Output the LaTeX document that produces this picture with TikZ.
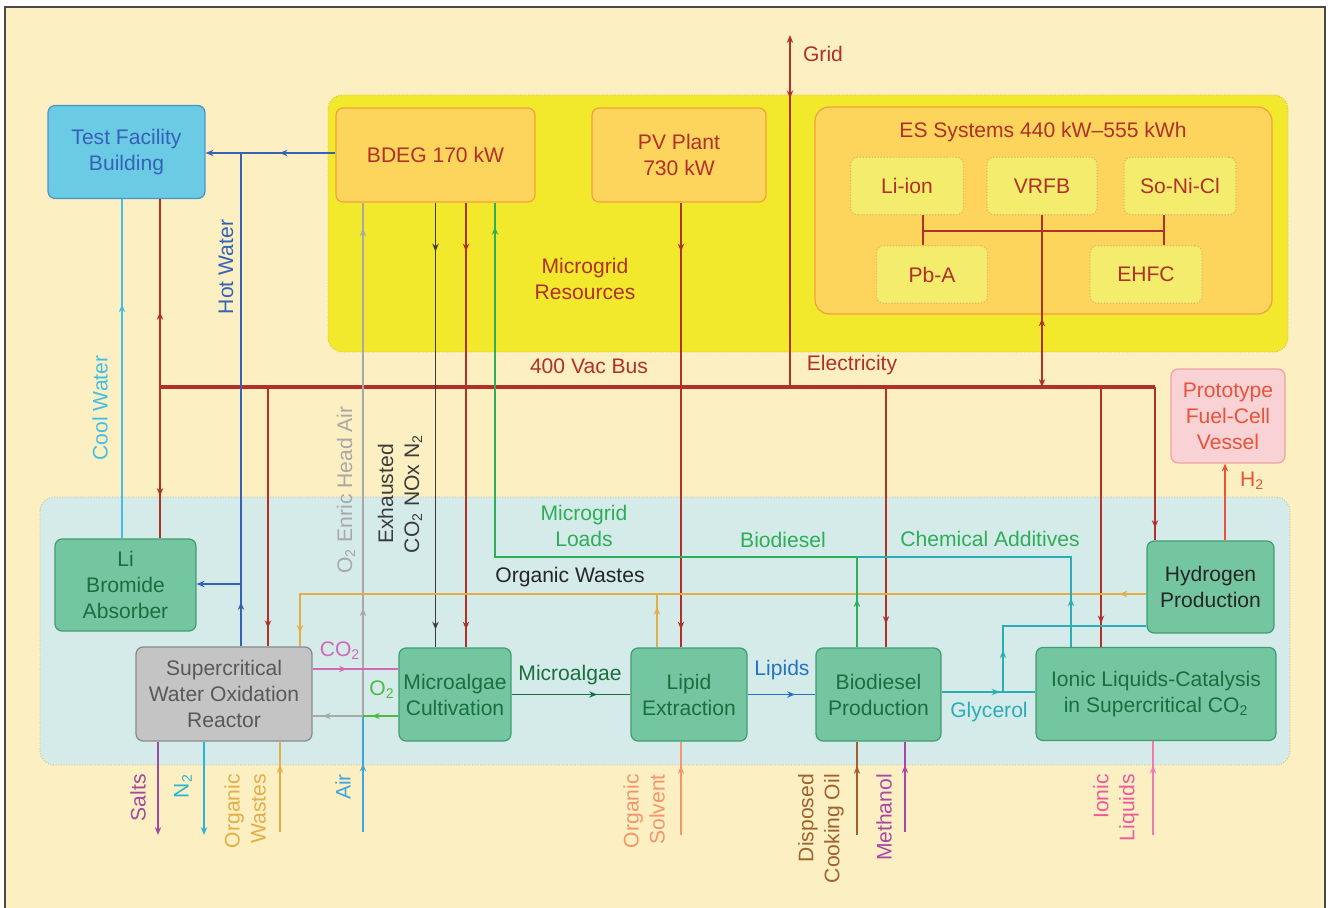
\documentclass[tikz,border=0pt]{standalone}
\usepackage{fontspec}
\setmainfont{Liberation Sans}
\usepackage{tikz}
\usetikzlibrary{arrows.meta}
\usetikzlibrary{decorations.markings}
\definecolor{Crema}{HTML}{FCEFC2}
\definecolor{Marco}{HTML}{4A4A4A}
\definecolor{Amarillo}{HTML}{F2E82C}
\definecolor{BordeZona}{HTML}{E2B868}
\definecolor{Naranja}{HTML}{FDD55C}
\definecolor{NaranjaBorde}{HTML}{F2A23A}
\definecolor{Limon}{HTML}{F4EC6C}
\definecolor{Agua}{HTML}{D4EBE9}
\definecolor{Cielo}{HTML}{6CCBE4}
\definecolor{CieloBorde}{HTML}{4C94CC}
\definecolor{Verde}{HTML}{74C6A0}
\definecolor{VerdeBorde}{HTML}{3F9E70}
\definecolor{VerdeTexto}{HTML}{18703F}
\definecolor{Gris}{HTML}{C4C4C4}
\definecolor{GrisBorde}{HTML}{8A8A8A}
\definecolor{Rosa}{HTML}{F8D2D4}
\definecolor{RosaBorde}{HTML}{F1A2A6}
\definecolor{Rojo}{HTML}{B0302A}
\definecolor{RojoClaro}{HTML}{E9533A}
\definecolor{Azul}{HTML}{3462B8}
\definecolor{AzulL}{HTML}{2472C0}
\definecolor{Cian}{HTML}{42BFE8}
\definecolor{CianN}{HTML}{2BB5D5}
\definecolor{Celeste}{HTML}{3EA5E0}
\definecolor{GrisOscuro}{HTML}{3C3C3C}
\definecolor{GrisClaro}{HTML}{A8A8A8}
\definecolor{Oro}{HTML}{E3AE45}
\definecolor{VerdeL}{HTML}{2DAE58}
\definecolor{VerdeO}{HTML}{52B844}
\definecolor{Teal}{HTML}{2AAEB4}
\definecolor{RosaCO}{HTML}{D468B8}
\definecolor{Purpura}{HTML}{A04AA0}
\definecolor{Salmon}{HTML}{F4956A}
\definecolor{Cafe}{HTML}{A0622D}
\definecolor{Morado}{HTML}{A947A8}
\definecolor{RosaL}{HTML}{EC5AA0}

\tikzset{
  zona/.style={draw=BordeZona, densely dotted, line width=.5pt, rounded corners=8pt},
  caja/.style={draw, rounded corners=4pt, align=center, line width=.7pt, inner sep=1pt},
  cajanar/.style={caja, fill=Naranja, draw=NaranjaBorde, text=Rojo},
  cajalim/.style={caja, fill=Limon, draw=BordeZona, densely dotted, text=Rojo,
    minimum height=1.15cm},
  cajaver/.style={caja, fill=Verde, draw=VerdeBorde, text=VerdeTexto, minimum height=1.86cm},
  linea/.style={line width=.8pt},
  feeder/.style={line width=1.1pt, draw=Rojo},
  bus/.style={line width=1.8pt, draw=Rojo},
  tip/.style={postaction={decorate, decoration={markings,
    mark=at position #1 with {\arrow{Stealth[length=4.5pt,width=3.6pt]}}}}},
  tipr/.style={postaction={decorate, decoration={markings,
    mark=at position #1 with {\arrowreversed{Stealth[length=4.5pt,width=3.6pt]}}}}},
  punta/.style={-{Stealth[length=4.5pt,width=3.6pt]}},
  vert/.style={rotate=90, align=right, anchor=east},
}

\begin{document}
\begin{tikzpicture}[x=.02cm, y=-.02cm, font=\fontsize{12}{14.8}\selectfont]
  \useasboundingbox (0,0) rectangle (1330,908);
  \fill[white] (0,0) rectangle (1330,908);
  \fill[Crema] (5,7) rectangle (1325,908);
  \draw[line width=1pt, Marco] (5,908) -- (5,7) -- (1325,7) -- (1325,908);

  % zonas
  \draw[zona, fill=Amarillo] (328,95) rectangle (1288,352);
  \draw[zona, fill=Agua] (40,497) rectangle (1290,765);

  % recursos
  \node[caja, fill=Cielo, draw=CieloBorde, text=Azul, minimum width=3.14cm, minimum height=1.86cm]
    (tfb) at (126.5,152) {Test Facility\\Building};
  \node[cajanar, minimum width=3.98cm, minimum height=1.88cm] (bdeg) at (435.5,155) {BDEG 170 kW};
  \node[cajanar, minimum width=3.48cm, minimum height=1.88cm] (pv) at (679,155) {PV Plant\\730 kW};
  \node[cajanar, minimum width=9.14cm, minimum height=4.14cm, rounded corners=8pt] (es) at (1043.5,210.5) {};
  \node[text=Rojo] (estitle) at (1043,132) {ES Systems 440 kW--555 kWh};
  \node[cajalim, minimum width=2.26cm] (liion) at (907,186) {Li-ion};
  \node[cajalim, minimum width=2.2cm] (vrfb) at (1042,186) {VRFB};
  \node[cajalim, minimum width=2.24cm] (sonicl) at (1180,186) {So-Ni-Cl};
  \node[cajalim, minimum width=2.22cm] (pba) at (932,274.5) {Pb-A};
  \node[cajalim, minimum width=2.24cm] (ehfc) at (1146,274.5) {EHFC};
  \node[caja, fill=Rosa, draw=RosaBorde, text=RojoClaro, minimum width=2.28cm, minimum height=1.88cm]
    (proto) at (1228,416) {Prototype\\Fuel-Cell\\Vessel};

  % procesos
  \node[cajaver, minimum width=2.82cm, minimum height=1.84cm] (libr) at (125.5,585) {Li\\Bromide\\Absorber};
  \node[caja, fill=Gris, draw=GrisBorde, text=black!65, minimum width=3.52cm, minimum height=1.88cm]
    (scwo) at (224,694) {Supercritical\\Water Oxidation\\Reactor};
  \node[cajaver, minimum width=2.24cm] (mc) at (455,694.5) {Microalgae\\Cultivation};
  \node[cajaver, minimum width=2.32cm] (le) at (689,694.5) {Lipid\\Extraction};
  \node[cajaver, minimum width=2.5cm] (bp) at (878.5,694.5) {Biodiesel\\Production};
  \node[cajaver, minimum width=4.8cm] (il) at (1156,694) {Ionic Liquids-Catalysis\\in Supercritical CO\textsubscript{2}};
  \node[cajaver, text=black!85, minimum width=2.54cm, minimum height=1.84cm] (hp) at (1210.5,587) {Hydrogen\\Production};

  % puntos de union
  \coordinate (bw) at (160,387);
  \coordinate (be) at (1155,387);
  \coordinate (gtop) at (790,35);
  \coordinate (jhw) at (241,153);
  \coordinate (jlb) at (241,584);
  \coordinate (jair) at (363,716);
  \coordinate (jco) at (330,669);
  \coordinate (jow) at (300,594);
  \coordinate (jbd) at (857,557);
  \coordinate (jld) at (495,557);
  \coordinate (jca) at (1071,557);
  \coordinate (jgl) at (1003,692);
  \coordinate (jgh) at (1003,626);
  \coordinate (esbus) at (923,231);
  \coordinate (airin) at (363,832);
  \coordinate (salts) at (158,835);
  \coordinate (ntwo) at (204,835);
  \coordinate (owin) at (280,832);
  \coordinate (solv) at (681,835);
  \coordinate (oil) at (857,835);
  \coordinate (meth) at (905,832);
  \coordinate (ionin) at (1153,835);

  % 400 Vac bus
  \draw[bus] (bw) -- (be);
  \draw[feeder, tip=.4] (bw) -- (bw |- tfb.south);
  \draw[feeder, tip=.72] (bw) -- (bw |- libr.north);
  \draw[feeder, tip=.93] (268,0 |- bw) -- (268,0 |- scwo.north);
  \draw[feeder, tip=.11, tip=.96] (466,0 |- bdeg.south) -- (466,0 |- mc.north);
  \draw[feeder, tip=.11, tip=.96] (681,0 |- pv.south) -- (681,0 |- le.north);
  \draw[feeder, tip=.91] (886,0 |- bw) -- (886,0 |- bp.north);
  \draw[feeder, tip=.91] (1101,0 |- bw) -- (1101,0 |- il.north);
  \draw[feeder, tip=.92] (be) -- (be |- hp.north);
  \draw[feeder, punta, tipr=.82] (gtop |- bw) -- (gtop);
  \draw[feeder, line width=1pt, punta, tipr=.6] (vrfb.south) -- (vrfb.south |- bw);
  \draw[feeder, line width=1pt] (esbus |- liion.south) -- (esbus |- pba.north);
  \draw[feeder, line width=1pt] (esbus) -- (1164,0 |- esbus);
  \draw[feeder, line width=1pt] (1164,0 |- sonicl.south) -- (1164,0 |- ehfc.north);

  % agua
  \draw[linea, Azul, tip=.43, punta] (bdeg.west |- jhw) -- (tfb.east |- jhw);
  \draw[linea, Azul, tip=.09] (jhw |- scwo.north) -- (jhw);
  \draw[linea, Azul, punta] (jlb) -- (libr.east |- jlb);
  \draw[linea, Cian, tip=.69] (122,0 |- libr.north) -- (122,0 |- tfb.south);

  % gases
  \draw[linea, GrisOscuro, tip=.11, tip=.96] (bdeg.south) -- (bdeg.south |- mc.north);
  \draw[linea, GrisClaro, tip=.21, tip=.95] (jair) -- (jair |- bdeg.south);
  \draw[linea, Celeste, tip=.59] (airin) -- (jair);
  \draw[linea, GrisClaro, tip=.8] (jair) -- (jair -| scwo.east);
  \draw[linea, VerdeO, tip=.75] (jair -| mc.west) -- (jair);
  \draw[linea, RosaCO, tip=.4] (jco -| scwo.east) -- (jco -| mc.west);

  % residuos organicos
  \draw[linea, Oro, tip=.03, tip=.985] (hp.west |- jow) -- (jow) -- (jow |- scwo.north);
  \draw[linea, Oro, tip=.76] (657,0 |- le.north) -- (657,0 |- jow);

  % productos
  \draw[linea, VerdeL, tip=.06, tip=.97] (jbd |- bp.north) -- (jbd) -- (jld) -- (jld |- bdeg.south);
  \draw[linea, Teal, tip=.16] (jca |- il.north) -- (jca) -- (jbd);
  \draw[linea, Teal, tip=.62] (bp.east |- jgl) -- (il.west |- jgl);
  \draw[linea, Teal, tip=.2] (jgl) -- (jgh) -- (hp.west |- jgh);
  \draw[linea, VerdeTexto, tip=.72] (mc.east) -- (le.west);
  \draw[linea, AzulL, tip=.7] (le.east) -- (bp.west);
  \draw[linea, RojoClaro, punta] (1225,0 |- hp.north) -- (1225,0 |- proto.south);

  % entradas y salidas
  \draw[linea, Purpura, punta] (salts |- scwo.south) -- (salts);
  \draw[linea, CianN, punta] (ntwo |- scwo.south) -- (ntwo);
  \draw[linea, Oro, tip=.74] (owin) -- (owin |- scwo.south);
  \draw[linea, Salmon, tip=.74] (solv) -- (solv |- le.south);
  \draw[linea, Cafe, tip=.74] (oil) -- (oil |- bp.south);
  \draw[linea, Morado, tip=.74] (meth) -- (meth |- bp.south);
  \draw[linea, RosaL!80, tip=.74] (ionin) -- (ionin |- il.south);

  % etiquetas
  \node[text=Rojo] (lgrid) at (823,54) {Grid};
  \node[text=Rojo, align=center] (lres) at (585,279) {Microgrid\\Resources};
  \node[text=Rojo] (lbus) at (589,366) {400 Vac Bus};
  \node[text=Rojo] (lelec) at (852,365) {Electricity};
  \node[text=VerdeL, align=center] (lloads) at (584,526) {Microgrid\\Loads};
  \node[text=VerdeL] (lbiod) at (783,540) {Biodiesel};
  \node[text=VerdeL] (lchem) at (990,539) {Chemical Additives};
  \node[text=black!85] (lwaste) at (570,577) {Organic Wastes};
  \node[text=VerdeTexto] (lalgae) at (570,675) {Microalgae};
  \node[text=AzulL] (llip) at (782,670) {Lipids};
  \node[text=Teal] (lgly) at (989,712) {Glycerol};
  \node[text=RosaCO] (lco) at (340,651) {CO\textsubscript{2}};
  \node[text=VerdeO] (lo) at (382,690) {O\textsubscript{2}};
  \node[text=RojoClaro] (lh) at (1252,481) {H\textsubscript{2}};
  \node[text=Cian, rotate=90] (lcool) at (100,408) {Cool Water};
  \node[text=Azul, rotate=90] (lhot) at (226,267) {Hot Water};
  \node[text=GrisClaro, rotate=90] (lhead) at (346,490) {O\textsubscript{2} Enric Head Air};
  \node[text=GrisOscuro, rotate=90, align=center] (lexh) at (400,494) {Exhausted\\CO\textsubscript{2} NOx N\textsubscript{2}};
  \node[vert, text=Purpura] (lsalts) at (138,768) {Salts};
  \node[vert, text=CianN] (ln) at (183,768) {N\textsubscript{2}};
  \node[vert, text=Oro] (lowin) at (245,768) {Organic\\Wastes};
  \node[vert, text=Celeste] (lair) at (343,768) {Air};
  \node[vert, text=Salmon] (lsolv) at (644,768) {Organic\\Solvent};
  \node[vert, text=Cafe] (loil) at (821,768) {Disposed\\Cooking Oil};
  \node[vert, text=Morado] (lmeth) at (884,768) {Methanol};
  \node[vert, text=RosaL] (lion) at (1116,768) {Ionic\\Liquids};
\end{tikzpicture}
\end{document}
